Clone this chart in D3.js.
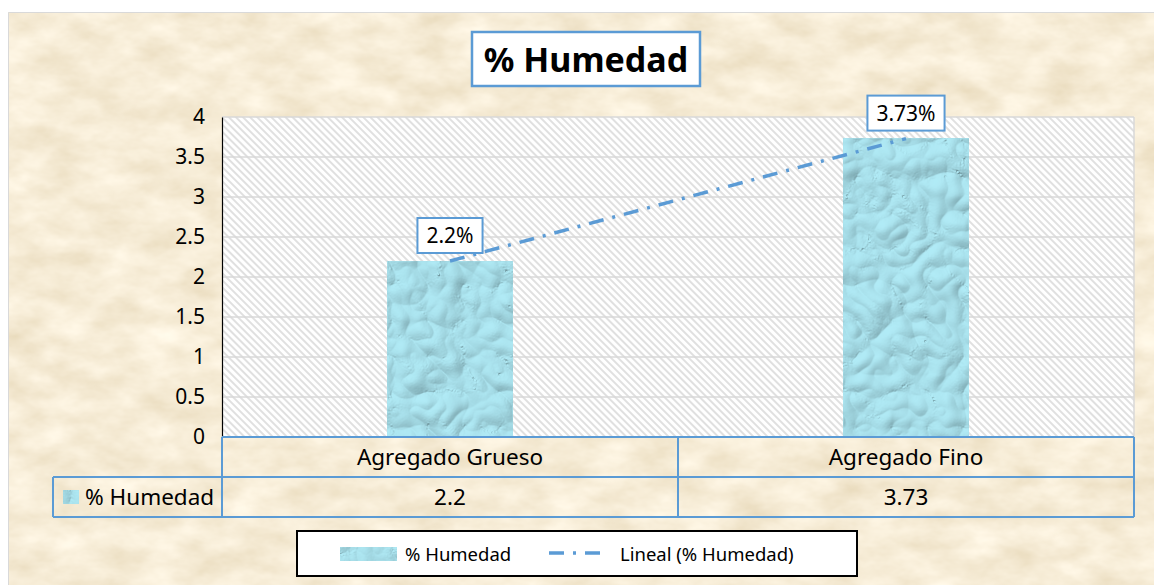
<!DOCTYPE html>
<html>
<head>
<meta charset="utf-8">
<script src="https://cdn.jsdelivr.net/npm/d3@7"></script>
<style>
  body { margin: 0; background: #fff; }
  svg text { font-family: "Noto Sans", "Open Sans", sans-serif; fill: #000; }
</style>
</head>
<body>
<div id="chart"></div>
<script>
// data
var categories = ["Agregado Grueso", "Agregado Fino"];
var humedad = [2.2, 3.73];
var pointLabels = ["2.2%", "3.73%"];
var tableValues = ["2.2", "3.73"];
var yTicks = [0, 0.5, 1, 1.5, 2, 2.5, 3, 3.5, 4];
var seriesName = "% Humedad";
var trendName = "Lineal (% Humedad)";
var chartTitle = "% Humedad";

var W = 1154, H = 585;
var blue = "#5b9bd5";

var svg = d3.select("#chart").append("svg")
  .attr("width", W).attr("height", H);

var defs = svg.append("defs");

// parchment background
var paper = defs.append("filter").attr("id", "paper")
  .attr("x", 0).attr("y", 0).attr("width", 1).attr("height", 1);
paper.append("feTurbulence").attr("type", "fractalNoise")
  .attr("baseFrequency", "0.022 0.04").attr("numOctaves", 4).attr("seed", 7);
paper.append("feColorMatrix").attr("type", "matrix")
  .attr("values", "0.25 0 0 0 0.8  0.3 0 0 0 0.69  0.38 0 0 0 0.485  0 0 0 0 1");

// water drops texture for the bars
var water = defs.append("filter").attr("id", "water")
  .attr("x", 0).attr("y", 0).attr("width", 1).attr("height", 1);
water.append("feTurbulence").attr("type", "turbulence")
  .attr("baseFrequency", "0.028").attr("numOctaves", 2).attr("seed", 3).attr("result", "t");
water.append("feColorMatrix").attr("in", "t").attr("type", "matrix")
  .attr("values", "0 0 0 0 0  0 0 0 0 0  0 0 0 0 0  1 0 0 0 0").attr("result", "bump");
var light = water.append("feDiffuseLighting").attr("in", "bump")
  .attr("surfaceScale", 6).attr("diffuseConstant", 1)
  .attr("lighting-color", "#ffffff").attr("result", "lit");
light.append("feDistantLight").attr("azimuth", 235).attr("elevation", 55);
water.append("feFlood").attr("flood-color", "#a9e1ec").attr("result", "base");
water.append("feComposite").attr("in", "lit").attr("in2", "base")
  .attr("operator", "arithmetic").attr("k1", 0.75).attr("k2", 0).attr("k3", 0.35).attr("k4", 0);

// hatched plot area
var hatch = defs.append("pattern").attr("id", "hatch")
  .attr("patternUnits", "userSpaceOnUse").attr("width", 5).attr("height", 5)
  .attr("patternTransform", "rotate(45)");
hatch.append("rect").attr("width", 5).attr("height", 5).attr("fill", "#fff");
hatch.append("line").attr("x1", 0).attr("x2", 5).attr("y1", 1).attr("y2", 1)
  .attr("stroke", "#d6d6d6").attr("stroke-width", 1.5);

// chart area
svg.append("rect").attr("x", 8).attr("y", 12).attr("width", W - 8).attr("height", H - 12)
  .attr("filter", "url(#paper)");
svg.append("path").attr("d", "M8.5," + H + "V12.5H" + W)
  .attr("fill", "none").attr("stroke", "#d9d9d9").attr("stroke-width", 1);

var plot = {left: 222, right: 1134, top: 117, bottom: 437};

var x = d3.scaleBand().domain(categories).range([plot.left, plot.right]);
var y = d3.scaleLinear().domain([0, 4]).range([plot.bottom, plot.top]);

svg.append("rect").attr("x", plot.left).attr("y", plot.top)
  .attr("width", plot.right - plot.left).attr("height", plot.bottom - plot.top)
  .attr("fill", "url(#hatch)");

// gridlines
svg.append("g").selectAll("line").data(yTicks.filter(function(d){ return d > 0; }))
  .enter().append("line")
  .attr("x1", plot.left).attr("x2", plot.right)
  .attr("y1", function(d){ return y(d); }).attr("y2", function(d){ return y(d); })
  .attr("stroke", "#d9d9d9").attr("stroke-width", 1.5);
svg.append("line").attr("x1", plot.right).attr("x2", plot.right)
  .attr("y1", plot.top).attr("y2", plot.bottom)
  .attr("stroke", "#d9d9d9").attr("stroke-width", 1.5);

// y axis
var yAxis = d3.axisLeft(y).tickValues(yTicks).tickSize(0).tickPadding(17)
  .tickFormat(function(d){ return String(d); });
var ag = svg.append("g").attr("transform", "translate(" + plot.left + ",0)").call(yAxis);
ag.select(".domain").attr("stroke", "#000").attr("stroke-width", 1.2);
ag.selectAll("text").style("font-size", "21px")
  .style("font-family", "'Noto Sans', sans-serif").attr("fill", "#000");

// bars
var barW = x.bandwidth() * 0.274;
svg.append("g").selectAll("rect").data(humedad).enter().append("rect")
  .attr("x", function(d, i){ return x(categories[i]) + x.bandwidth() / 2 - barW / 2; })
  .attr("y", function(d){ return y(d); })
  .attr("width", barW)
  .attr("height", function(d){ return y(0) - y(d); })
  .attr("filter", "url(#water)");

// linear trend line (least squares over category index)
var xi = humedad.map(function(d, i){ return i + 1; });
var mx = d3.mean(xi), my = d3.mean(humedad);
var slope = d3.sum(xi, function(v, i){ return (v - mx) * (humedad[i] - my); }) /
            d3.sum(xi, function(v){ return (v - mx) * (v - mx); });
var icpt = my - slope * mx;
var trend = categories.map(function(c, i){
  return [x(c) + x.bandwidth() / 2, y(icpt + slope * (i + 1))];
});
svg.append("path").attr("d", d3.line()(trend))
  .attr("fill", "none").attr("stroke", blue).attr("stroke-width", 3.5)
  .attr("stroke-dasharray", "15,9,3,9");

// data labels
categories.forEach(function(c, i){
  var cx = x(c) + x.bandwidth() / 2;
  var g = svg.append("g");
  var t = g.append("text").attr("x", cx).attr("text-anchor", "middle")
    .style("font-size", "21px").text(pointLabels[i]);
  var tw = t.node().getComputedTextLength();
  var bh = 35, by = y(humedad[i]) - 8 - bh;
  t.attr("y", by + bh / 2 + 7.5);
  g.insert("rect", "text").attr("x", cx - tw / 2 - 9).attr("y", by)
    .attr("width", tw + 18).attr("height", bh)
    .attr("fill", "#fff").attr("stroke", blue).attr("stroke-width", 2);
});

// title
var tg = svg.append("g");
tg.append("text").attr("x", 586).attr("y", 72).attr("text-anchor", "middle")
  .style("font-size", "34px").style("font-weight", "bold").text(chartTitle);
tg.insert("rect", "text").attr("x", 472).attr("y", 32).attr("width", 228).attr("height", 54)
  .attr("fill", "#fff").attr("stroke", blue).attr("stroke-width", 2.5);

// data table
var rowH = 40, tableLeft = 53;
var tbl = svg.append("g").attr("stroke", blue).attr("stroke-width", 2).attr("fill", "none");
tbl.append("line").attr("x1", plot.left).attr("x2", plot.right)
  .attr("y1", plot.bottom).attr("y2", plot.bottom);
tbl.append("line").attr("x1", tableLeft).attr("x2", plot.right)
  .attr("y1", plot.bottom + rowH).attr("y2", plot.bottom + rowH);
tbl.append("line").attr("x1", tableLeft).attr("x2", plot.right)
  .attr("y1", plot.bottom + 2 * rowH).attr("y2", plot.bottom + 2 * rowH);
tbl.append("line").attr("x1", tableLeft).attr("x2", tableLeft)
  .attr("y1", plot.bottom + rowH).attr("y2", plot.bottom + 2 * rowH);
var vlines = [plot.left].concat(categories.map(function(c){ return x(c) + x.bandwidth(); }));
tbl.selectAll(".v").data(vlines).enter().append("line")
  .attr("x1", function(d){ return d; }).attr("x2", function(d){ return d; })
  .attr("y1", plot.bottom).attr("y2", plot.bottom + 2 * rowH);

svg.append("g").selectAll("text").data(categories).enter().append("text")
  .attr("x", function(d){ return x(d) + x.bandwidth() / 2; })
  .attr("y", plot.bottom + rowH / 2 + 8).attr("text-anchor", "middle")
  .style("font-size", "22.5px").text(function(d){ return d; });
svg.append("g").selectAll("text").data(tableValues).enter().append("text")
  .attr("x", function(d, i){ return x(categories[i]) + x.bandwidth() / 2; })
  .attr("y", plot.bottom + rowH * 1.5 + 8).attr("text-anchor", "middle")
  .style("font-size", "22.5px").text(function(d){ return d; });

svg.append("rect").attr("x", 63).attr("y", 490).attr("width", 16).attr("height", 14)
  .attr("filter", "url(#water)");
svg.append("text").attr("x", 85).attr("y", plot.bottom + rowH * 1.5 + 8)
  .style("font-size", "22.5px").text(seriesName);

// legend
var lg = svg.append("g");
lg.append("rect").attr("x", 297).attr("y", 531).attr("width", 560).attr("height", 45)
  .attr("fill", "#fff").attr("stroke", "#000").attr("stroke-width", 2);
lg.append("rect").attr("x", 340).attr("y", 547).attr("width", 57).attr("height", 14)
  .attr("filter", "url(#water)");
lg.append("text").attr("x", 405).attr("y", 561).style("font-size", "18.5px").text(seriesName);
lg.append("line").attr("x1", 549).attr("x2", 603).attr("y1", 553).attr("y2", 553)
  .attr("stroke", blue).attr("stroke-width", 3.5).attr("stroke-dasharray", "15,9,3,9");
lg.append("text").attr("x", 620).attr("y", 561).style("font-size", "18.5px").text(trendName);
</script>
</body>
</html>
